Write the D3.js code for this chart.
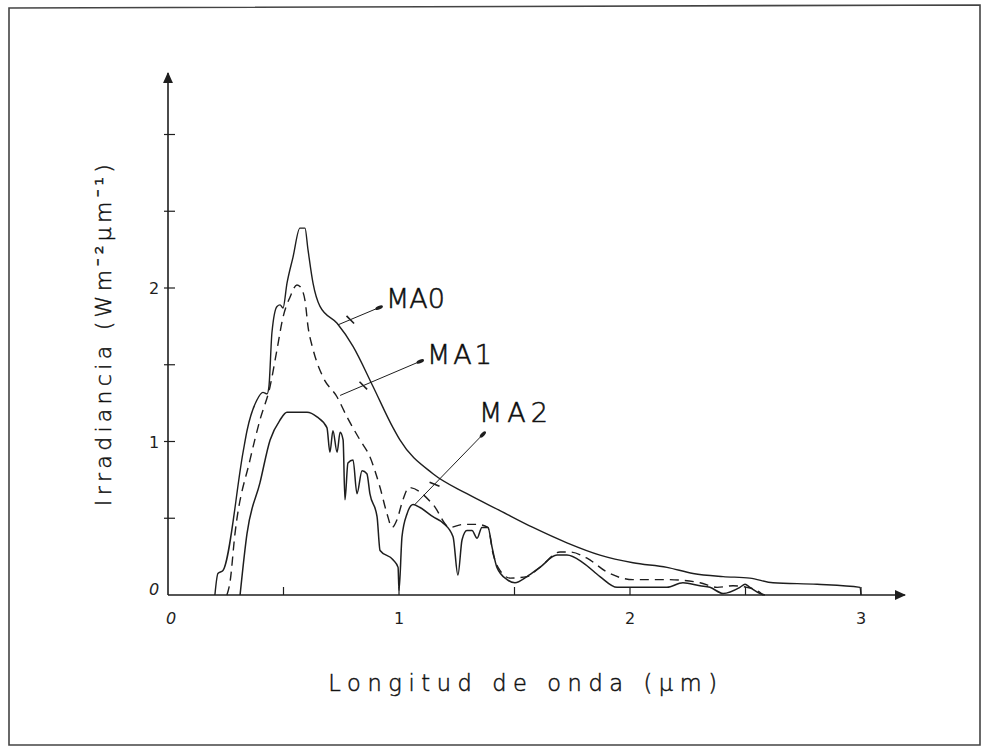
<!DOCTYPE html>
<html>
<head>
<meta charset="utf-8">
<script src="https://cdn.jsdelivr.net/npm/d3@7"></script>
<style>
  html, body { margin: 0; padding: 0; background: #fff; }
  svg { display: block; }
</style>
</head>
<body>
<div id="chart"></div>
<script>
// wavelength (um) / irradiance pairs
const ma0 = [
  [0.203, 0], [0.216, 0.14], [0.238, 0.16], [0.325, 0.93], [0.342, 1.07], [0.385, 1.27],
  [0.411, 1.32], [0.429, 1.31], [0.437, 1.36], [0.450, 1.71], [0.472, 1.88], [0.485, 1.89],
  [0.498, 1.87], [0.515, 2.03], [0.541, 2.20], [0.571, 2.39], [0.593, 2.39], [0.606, 2.25],
  [0.628, 2.03], [0.658, 1.88], [0.732, 1.77], [0.801, 1.62], [0.887, 1.36], [0.974, 1.09],
  [1.004, 1.01], [1.147, 0.79], [1.294, 0.66], [1.437, 0.55], [1.580, 0.44], [1.727, 0.34],
  [1.870, 0.26], [2.013, 0.21], [2.160, 0.18], [2.273, 0.14], [2.403, 0.12], [2.519, 0.11],
  [2.619, 0.08], [2.810, 0.07], [2.996, 0.05], [3.0, 0]
];

const ma1 = [
  [0.255, 0], [0.268, 0.08], [0.290, 0.40], [0.355, 0.88], [0.398, 1.14], [0.442, 1.36],
  [0.472, 1.60], [0.498, 1.81], [0.528, 1.94], [0.558, 2.02], [0.571, 2.01], [0.593, 1.92],
  [0.606, 1.75], [0.628, 1.60], [0.671, 1.42], [0.732, 1.29], [0.775, 1.16], [0.831, 1.01],
  [0.874, 0.90], [0.918, 0.70], [0.948, 0.53], [0.970, 0.44], [0.991, 0.49], [1.017, 0.62],
  [1.043, 0.70], [1.147, 0.59], [1.221, 0.44], [1.277, 0.46], [1.338, 0.46],
  [1.385, 0.44], [1.407, 0.27], [1.437, 0.16], [1.481, 0.11], [1.554, 0.12], [1.610, 0.18],
  [1.697, 0.28], [1.740, 0.28], [1.814, 0.24], [1.900, 0.15], [2.013, 0.10], [2.160, 0.10],
  [2.303, 0.08], [2.377, 0.05], [2.446, 0.06], [2.506, 0.05], [2.550, 0.03], [2.576, 0]
];

const ma2 = [
  [0.312, 0], [0.342, 0.40], [0.398, 0.73], [0.442, 1.01], [0.485, 1.14], [0.515, 1.19],
  [0.558, 1.19], [0.602, 1.19], [0.645, 1.16], [0.688, 1.09], [0.701, 0.93], [0.714, 1.07],
  [0.732, 0.93], [0.745, 1.06], [0.758, 1.01], [0.766, 0.62], [0.779, 0.86], [0.801, 0.88],
  [0.818, 0.66], [0.840, 0.81], [0.861, 0.79], [0.874, 0.66], [0.905, 0.51], [0.918, 0.29],
  [0.974, 0.23], [0.996, 0.18], [1.000, 0.03], [1.013, 0.38], [1.035, 0.53], [1.061, 0.59],
  [1.091, 0.57], [1.147, 0.51], [1.190, 0.47], [1.234, 0.38], [1.255, 0.13], [1.273, 0.36],
  [1.294, 0.42], [1.316, 0.42], [1.338, 0.37], [1.359, 0.44], [1.385, 0.44], [1.403, 0.31],
  [1.424, 0.18], [1.468, 0.10], [1.502, 0.08], [1.554, 0.12], [1.610, 0.18], [1.684, 0.26],
  [1.727, 0.26], [1.797, 0.21], [1.870, 0.12], [1.944, 0.05], [2.013, 0.05], [2.160, 0.05],
  [2.229, 0.08], [2.303, 0.06], [2.346, 0.05], [2.403, 0.01], [2.476, 0.05], [2.498, 0.07],
  [2.519, 0.05], [2.563, 0.01], [2.584, 0]
];

const xTicks = [0.5, 1, 1.5, 2, 2.5, 3];
const xTickLabels = ["0", "1", "2", "3"];
const yTicks = [0.5, 1, 1.5, 2, 2.5, 3];
const yTickLabels = ["0", "1", "2"];

// label callouts: [name, curve x, curve y, label x, label y]
const callouts = [
  ["MA0", 0.736, 1.76, 0.926, 1.88],
  ["MA1", 0.745, 1.30, 1.104, 1.53],
  ["MA2", 1.069, 0.59, 1.372, 1.06]
];

const ink = "#1e1e1e";
const width = 986;
const height = 749;

const svg = d3.select("#chart")
  .append("svg")
  .attr("width", width)
  .attr("height", height);

svg.append("rect")
  .attr("width", width)
  .attr("height", height)
  .attr("fill", "#fff");

// scanned page frame
svg.append("path")
  .attr("d", "M9,745 L9,8 L980,5 L980,745 Z")
  .attr("fill", "none")
  .attr("stroke", "#444")
  .attr("stroke-width", 1.6);

const x = d3.scaleLinear().domain([0, 3]).range([168, 861]);
const y = d3.scaleLinear().domain([0, 3]).range([595, 134.5]);

const defs = svg.append("defs");
defs.append("marker")
  .attr("id", "axis-arrow")
  .attr("viewBox", "0 -5 10 10")
  .attr("refX", 9)
  .attr("refY", 0)
  .attr("markerWidth", 11)
  .attr("markerHeight", 11)
  .attr("markerUnits", "userSpaceOnUse")
  .attr("orient", "auto")
  .append("path")
  .attr("d", "M0,-4.5L10,0L0,4.5Z")
  .attr("fill", ink);

// axes with arrow heads
svg.append("line")
  .attr("x1", x(0)).attr("y1", y(0))
  .attr("x2", x(3.19)).attr("y2", y(0))
  .attr("stroke", ink).attr("stroke-width", 1.6)
  .attr("marker-end", "url(#axis-arrow)");

svg.append("line")
  .attr("x1", x(0)).attr("y1", y(0))
  .attr("x2", x(0)).attr("y2", y(3.4))
  .attr("stroke", ink).attr("stroke-width", 1.6)
  .attr("marker-end", "url(#axis-arrow)");

svg.selectAll(".xtick")
  .data(xTicks)
  .join("line")
  .attr("class", "xtick")
  .attr("x1", (d) => x(d)).attr("x2", (d) => x(d))
  .attr("y1", y(0)).attr("y2", y(0) - 8)
  .attr("stroke", ink).attr("stroke-width", 1.2);

svg.selectAll(".ytick")
  .data(yTicks)
  .join("line")
  .attr("class", "ytick")
  .attr("x1", x(0) - 4).attr("x2", x(0) + 7)
  .attr("y1", (d) => y(d)).attr("y2", (d) => y(d))
  .attr("stroke", ink).attr("stroke-width", 1.2);

const tickFont = "'DejaVu Sans', sans-serif";

svg.selectAll(".xlab")
  .data(xTickLabels)
  .join("text")
  .attr("class", "xlab")
  .attr("x", (d) => x(+d) + (d === "0" ? 3 : 0))
  .attr("y", y(0) + 29)
  .attr("text-anchor", "middle")
  .attr("font-family", tickFont)
  .attr("font-size", 16)
  .attr("font-style", (d) => (d === "0" ? "italic" : "normal"))
  .attr("fill", ink)
  .text((d) => d);

svg.selectAll(".ylab")
  .data(yTickLabels)
  .join("text")
  .attr("class", "ylab")
  .attr("x", x(0) - 14)
  .attr("y", (d) => y(+d) + (d === "0" ? 0 : 6))
  .attr("text-anchor", "middle")
  .attr("font-family", tickFont)
  .attr("font-size", 16)
  .attr("font-style", (d) => (d === "0" ? "italic" : "normal"))
  .attr("fill", ink)
  .text((d) => d);

// curves
const line = d3.line()
  .x((d) => x(d[0]))
  .y((d) => y(d[1]))
  .curve(d3.curveMonotoneX);

svg.append("path")
  .datum(ma0)
  .attr("d", line)
  .attr("fill", "none")
  .attr("stroke", ink)
  .attr("stroke-width", 1.4);

svg.append("path")
  .datum(ma1)
  .attr("d", line)
  .attr("fill", "none")
  .attr("stroke", ink)
  .attr("stroke-width", 1.4)
  .attr("stroke-dasharray", "9 6");

svg.append("path")
  .datum(ma2)
  .attr("d", line)
  .attr("fill", "none")
  .attr("stroke", ink)
  .attr("stroke-width", 1.5);

// callouts
const labelFont = "'DejaVu Sans', sans-serif";
const labelShift = { MA0: [4, 2, 0], MA1: [4, 4, 3], MA2: [-6, -10, 5] };
callouts.forEach(([name, cx, cy, lx, ly]) => {
  const x1 = x(cx), y1 = y(cy), x2 = x(lx), y2 = y(ly);
  svg.append("line")
    .attr("x1", x1).attr("y1", y1)
    .attr("x2", x2).attr("y2", y2)
    .attr("stroke", ink).attr("stroke-width", 1);

  const ang = Math.atan2(y2 - y1, x2 - x1);
  const ex = x2 - 3 * Math.cos(ang);
  const ey = y2 - 3 * Math.sin(ang);
  svg.append("ellipse")
    .attr("cx", ex)
    .attr("cy", ey)
    .attr("rx", 4).attr("ry", 1.8)
    .attr("transform", `rotate(${ang * 180 / Math.PI},${ex},${ey})`)
    .attr("fill", ink);

  // small slash across the leader near the curve end
  const mx = x1 + (x2 - x1) * 0.28;
  const my = y1 + (y2 - y1) * 0.28;
  const px = -Math.sin(ang), py = Math.cos(ang);
  svg.append("line")
    .attr("x1", mx - px * 5 - Math.cos(ang) * 2).attr("y1", my - py * 5 - Math.sin(ang) * 2)
    .attr("x2", mx + px * 5 + Math.cos(ang) * 2).attr("y2", my + py * 5 + Math.sin(ang) * 2)
    .attr("stroke", ink).attr("stroke-width", 1.6);

  const [dx, dy, ls] = labelShift[name];
  svg.append("text")
    .attr("x", x2 + dx)
    .attr("y", y2 + dy)
    .attr("font-family", labelFont)
    .attr("font-size", 27)
    .attr("font-weight", 200)
    .attr("letter-spacing", ls)
    .attr("fill", "#000")
    .attr("stroke", "#222")
    .attr("stroke-width", 0.6)
    .text(name);
});

// axis titles
svg.append("text")
  .attr("x", 526)
  .attr("y", 691)
  .attr("text-anchor", "middle")
  .attr("font-family", labelFont)
  .attr("font-size", 22.5)
  .attr("font-weight", 200)
  .attr("letter-spacing", 6.6)
  .attr("fill", "#000")
  .attr("stroke", "#222")
  .attr("stroke-width", 0.5)
  .text("Longitud de onda (µm)");

svg.append("text")
  .attr("transform", "translate(111,333) rotate(-90)")
  .attr("text-anchor", "middle")
  .attr("font-family", labelFont)
  .attr("font-size", 22)
  .attr("font-weight", 200)
  .attr("letter-spacing", 4.3)
  .attr("fill", "#000")
  .attr("stroke", "#222")
  .attr("stroke-width", 0.5)
  .text("Irradiancia (Wm⁻²µm⁻¹)");
</script>
</body>
</html>
